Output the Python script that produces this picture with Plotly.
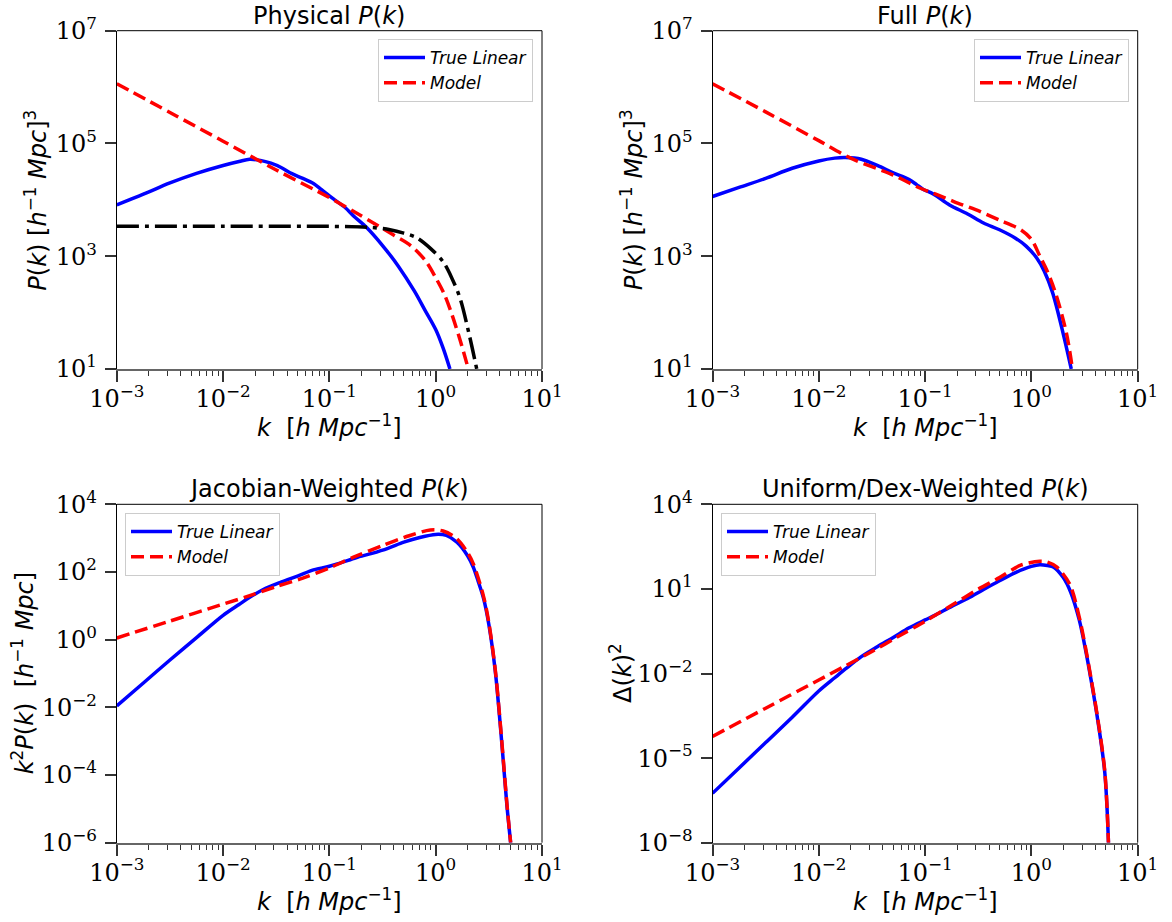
import plotly.graph_objects as go

# ---------------- data: log10 values ----------------
# Panel 1: Physical P(k)
phys_true_logk = [-3.0, -2.75, -2.5, -2.25, -2.0, -1.85, -1.75, -1.65, -1.55, -1.45, -1.37, -1.25,
                  -1.15, -1.08, -1.02, -0.95, -0.85, -0.77, -0.65, -0.5, -0.35, -0.2, -0.1, 0.0, 0.07, 0.134]
phys_true_logP = [3.91, 4.10, 4.30, 4.47, 4.61, 4.68, 4.72, 4.70, 4.65, 4.57, 4.48, 4.38,
                  4.29, 4.19, 4.10, 4.00, 3.86, 3.71, 3.51, 3.19, 2.82, 2.38, 2.04, 1.70, 1.37, 1.0]
phys_model_logk = [-3.0, -2.5, -2.0, -1.5, -1.0, -0.75, -0.55, -0.4, -0.25, -0.1, 0.0, 0.08, 0.15, 0.23, 0.307]
phys_model_logP = [6.06, 5.55, 5.04, 4.53, 4.04, 3.77, 3.55, 3.38, 3.21, 2.93, 2.62, 2.33, 1.98, 1.51, 1.0]
noise_logk = [-3.0, -2.0, -1.0, -0.6, -0.43, -0.3, -0.18, -0.05, 0.07, 0.15, 0.23, 0.32, 0.386]
noise_logP = [3.53, 3.53, 3.53, 3.51, 3.47, 3.41, 3.33, 3.14, 2.90, 2.62, 2.25, 1.57, 1.0]

# Panel 2: Full P(k)
full_true_logk = [-3.0, -2.75, -2.5, -2.25, -2.0, -1.85, -1.75, -1.6, -1.45, -1.3, -1.15, -1.08, -1.02,
                  -0.92, -0.77, -0.6, -0.45, -0.3, -0.15, -0.05, 0.05, 0.12, 0.2, 0.3, 0.375]
full_true_logP = [4.06, 4.22, 4.38, 4.56, 4.69, 4.74, 4.75, 4.72, 4.61, 4.48, 4.36, 4.27, 4.19,
                  4.10, 3.91, 3.75, 3.59, 3.47, 3.32, 3.18, 2.97, 2.74, 2.35, 1.62, 1.0]
full_model_logk = [-3.0, -2.5, -2.0, -1.7, -1.3, -1.05, -0.9, -0.73, -0.48, -0.3, -0.1, 0.0, 0.08,
                   0.15, 0.23, 0.33, 0.386]
full_model_logP = [6.06, 5.56, 5.05, 4.74, 4.44, 4.21, 4.10, 3.97, 3.79, 3.64, 3.47, 3.30, 3.0,
                   2.73, 2.33, 1.63, 1.0]

# Panel 3: Jacobian-weighted k^2 P(k)
jac_true_logk = [-3.0, -2.75, -2.5, -2.25, -2.0, -1.85, -1.75, -1.6, -1.45, -1.3, -1.15, -1.08, -1.0,
                 -0.9, -0.75, -0.6, -0.45, -0.3, -0.15, 0.0, 0.1, 0.2, 0.3, 0.354, 0.4, 0.45, 0.5,
                 0.56, 0.6, 0.64, 0.67, 0.705]
jac_true_logy = [-1.96, -1.28, -0.6, 0.06, 0.72, 1.04, 1.25, 1.52, 1.71, 1.88, 2.06, 2.11, 2.17,
                 2.26, 2.42, 2.55, 2.70, 2.88, 3.02, 3.11, 3.08, 2.88, 2.48, 2.14, 1.72, 1.22, 0.45,
                 -0.92, -2.25, -3.75, -4.9, -6.0]
jac_model_logk = [-3.0, -2.5, -2.0, -1.75, -1.5, -1.25, -1.0, -0.75, -0.5, -0.25, -0.05, 0.07, 0.2,
                  0.3, 0.354, 0.45, 0.5, 0.56, 0.6, 0.64, 0.67, 0.705]
jac_model_logy = [0.05, 0.55, 1.05, 1.30, 1.57, 1.82, 2.12, 2.47, 2.78, 3.07, 3.24, 3.21, 2.98,
                  2.57, 2.24, 1.28, 0.5, -0.88, -2.2, -3.7, -4.85, -6.0]

# Panel 4: Uniform/Dex-weighted Delta(k)^2
dex_true_logk = [-3.0, -2.75, -2.5, -2.25, -2.0, -1.85, -1.75, -1.6, -1.45, -1.3, -1.15, -1.08, -1.0,
                 -0.9, -0.75, -0.6, -0.45, -0.3, -0.15, 0.0, 0.08, 0.15, 0.21, 0.3, 0.37, 0.45, 0.51,
                 0.56, 0.62, 0.69, 0.725]
dex_true_logy = [-6.25, -5.35, -4.45, -3.55, -2.62, -2.15, -1.84, -1.40, -1.05, -0.72, -0.38, -0.25,
                 -0.1, 0.08, 0.38, 0.66, 0.98, 1.29, 1.58, 1.80, 1.86, 1.83, 1.77, 1.40, 0.88, -0.1,
                 -1.17, -2.2, -3.55, -5.5, -8.0]
dex_model_logk = [-3.0, -2.5, -2.0, -1.75, -1.5, -1.25, -1.0, -0.75, -0.5, -0.3, -0.1, 0.08, 0.15,
                  0.24, 0.36, 0.45, 0.51, 0.56, 0.62, 0.69, 0.725]
dex_model_logy = [-4.23, -3.23, -2.23, -1.73, -1.22, -0.68, -0.15, 0.42, 0.99, 1.40, 1.84, 1.98,
                  1.95, 1.77, 1.17, 0.0, -1.1, -2.15, -3.5, -5.45, -8.0]

# ticks
x_tick_vals = [1e-3, 1e-2, 1e-1, 1e0, 1e1]
x_tick_text = ["10<sup>−3</sup>", "10<sup>−2</sup>", "10<sup>−1</sup>", "10<sup>0</sup>", "10<sup>1</sup>"]
top_y_tick_vals = [1e1, 1e3, 1e5, 1e7]
top_y_tick_text = ["10<sup>1</sup>", "10<sup>3</sup>", "10<sup>5</sup>", "10<sup>7</sup>"]
jac_y_tick_vals = [1e-6, 1e-4, 1e-2, 1e0, 1e2, 1e4]
jac_y_tick_text = ["10<sup>−6</sup>", "10<sup>−4</sup>", "10<sup>−2</sup>", "10<sup>0</sup>",
                   "10<sup>2</sup>", "10<sup>4</sup>"]
dex_y_tick_vals = [1e-8, 1e-5, 1e-2, 1e1, 1e4]
dex_y_tick_text = ["10<sup>−8</sup>", "10<sup>−5</sup>", "10<sup>−2</sup>", "10<sup>1</sup>", "10<sup>4</sup>"]
x_minor_vals = [m * 10.0 ** e for e in range(-3, 1) for m in range(2, 10)]

titles = ["Physical <i>P</i>(<i>k</i>)", "Full <i>P</i>(<i>k</i>)",
          "Jacobian-Weighted <i>P</i>(<i>k</i>)", "Uniform/Dex-Weighted <i>P</i>(<i>k</i>)"]
y_titles = ["<i>P</i>(<i>k</i>) [<i>h</i><sup>−1</sup> <i>Mpc</i>]<sup>3</sup>",
            "<i>P</i>(<i>k</i>) [<i>h</i><sup>−1</sup> <i>Mpc</i>]<sup>3</sup>",
            "<i>k</i><sup>2</sup><i>P</i>(<i>k</i>)  [<i>h</i><sup>−1</sup> <i>Mpc</i>]",
            "Δ(<i>k</i>)<sup>2</sup>"]
x_title = "<i>k</i>  [<i>h Mpc</i><sup>−1</sup>]"

# ---------------- figure ----------------
W, H = 1172, 922
BLUE, RED = "#0000ff", "#ff0000"
LW = 3.5
DASH = "13px,6px"
DASHDOT = "22px,6px,4px,6px"

def p(vals):
    return [10.0 ** v for v in vals]

fig = go.Figure()

panels = [
    ("x", "y", "legend", phys_true_logk, phys_true_logP, phys_model_logk, phys_model_logP),
    ("x2", "y2", "legend2", full_true_logk, full_true_logP, full_model_logk, full_model_logP),
    ("x3", "y3", "legend3", jac_true_logk, jac_true_logy, jac_model_logk, jac_model_logy),
    ("x4", "y4", "legend4", dex_true_logk, dex_true_logy, dex_model_logk, dex_model_logy),
]
for xa, ya, lg, tk, tv, mk, mv in panels:
    fig.add_trace(go.Scatter(x=p(tk), y=p(tv), xaxis=xa, yaxis=ya, legend=lg, mode="lines",
                             name="<i>True Linear</i>", line=dict(color=BLUE, width=LW, shape="spline", smoothing=0.9)))
    fig.add_trace(go.Scatter(x=p(mk), y=p(mv), xaxis=xa, yaxis=ya, legend=lg, mode="lines",
                             name="<i>Model</i>", line=dict(color=RED, width=LW, dash=DASH, shape="spline", smoothing=0.9)))
    if xa == "x":
        fig.add_trace(go.Scatter(x=p(noise_logk), y=p(noise_logP), xaxis=xa, yaxis=ya, mode="lines",
                                 showlegend=False,
                                 line=dict(color="black", width=LW, dash=DASHDOT, shape="spline", smoothing=0.9)))

# domains (pixel positions of the reference axes)
def xd(a, b):
    return [a / W, b / W]

def yd(top, bot):
    return [1 - bot / H, 1 - top / H]

XL, XR = xd(116.8, 542.0), xd(712.5, 1137.7)
YT, YB = yd(30.7, 369.0), yd(504.3, 842.7)

tickfont = dict(family="DejaVu Serif", size=24, color="black")
common_x = dict(type="log", range=[-3, 1], tickmode="array", tickvals=x_tick_vals, ticktext=x_tick_text,
                ticks="outside", ticklen=11, tickwidth=1.5, tickcolor="#333", showgrid=False, zeroline=False,
                showline=True, linecolor="#666", linewidth=2, tickfont=tickfont, automargin=False,
                ticklabelstandoff=-4,
                minor=dict(tickmode="array", tickvals=x_minor_vals, ticks="outside", ticklen=5,
                           tickwidth=1, tickcolor="#333", showgrid=False))
common_y = dict(type="log", tickmode="array", ticks="outside", ticklen=11, tickwidth=1.5, tickcolor="#333",
                showgrid=False, zeroline=False, showline=True, linecolor="black", linewidth=1,
                tickfont=tickfont, automargin=False, ticklabelstandoff=3)

fig.update_layout(
    xaxis=dict(domain=XL, anchor="y", **common_x),
    xaxis2=dict(domain=XR, anchor="y2", **common_x),
    xaxis3=dict(domain=XL, anchor="y3", **common_x),
    xaxis4=dict(domain=XR, anchor="y4", **common_x),
    yaxis=dict(domain=YT, anchor="x", range=[1, 7], tickvals=top_y_tick_vals, ticktext=top_y_tick_text, **common_y),
    yaxis2=dict(domain=YT, anchor="x2", range=[1, 7], tickvals=top_y_tick_vals, ticktext=top_y_tick_text, **common_y),
    yaxis3=dict(domain=YB, anchor="x3", range=[-6, 4], tickvals=jac_y_tick_vals, ticktext=jac_y_tick_text, **common_y),
    yaxis4=dict(domain=YB, anchor="x4", range=[-8, 4], tickvals=dex_y_tick_vals, ticktext=dex_y_tick_text, **common_y),
)

legfont = dict(family="DejaVu Sans", size=17, color="black")
legcommon = dict(font=legfont, bgcolor="rgba(255,255,255,0.8)", bordercolor="#cccccc", borderwidth=1,
                 yanchor="top", tracegroupgap=0, itemwidth=41)
fig.update_layout(
    legend=dict(x=533 / W, y=1 - 39 / H, xanchor="right", **legcommon),
    legend2=dict(x=1129 / W, y=1 - 39 / H, xanchor="right", **legcommon),
    legend3=dict(x=125 / W, y=1 - 513 / H, xanchor="left", **legcommon),
    legend4=dict(x=721 / W, y=1 - 513 / H, xanchor="left", **legcommon),
)

# frame: top and right spines
shapes = []
for xa, ya in [("x", "y"), ("x2", "y2"), ("x3", "y3"), ("x4", "y4")]:
    shapes.append(dict(type="line", xref=xa + " domain", yref=ya + " domain", x0=0, x1=1, y0=1, y1=1,
                       line=dict(color="black", width=1)))
    shapes.append(dict(type="line", xref=xa + " domain", yref=ya + " domain", x0=1, x1=1, y0=0, y1=1,
                       line=dict(color="black", width=1)))

annotations = []
axis_pairs = [("x", "y", -81), ("x2", "y2", -81), ("x3", "y3", -94), ("x4", "y4", -92)]
for i, (xa, ya, ysh) in enumerate(axis_pairs):
    annotations.append(dict(text=titles[i], xref=xa + " domain", yref=ya + " domain", x=0.5, y=1,
                            xanchor="center", yanchor="middle", yshift=15, showarrow=False,
                            font=dict(family="DejaVu Sans", size=24, color="black")))
    annotations.append(dict(text=x_title, xref=xa + " domain", yref=ya + " domain", x=0.5, y=0,
                            xanchor="center", yanchor="middle", yshift=-57, showarrow=False,
                            font=dict(family="DejaVu Sans", size=24, color="black")))
    annotations.append(dict(text=y_titles[i], xref=xa + " domain", yref=ya + " domain", x=0, y=0.5,
                            xanchor="center", yanchor="middle", xshift=ysh, textangle=-90, showarrow=False,
                            font=dict(family="DejaVu Sans", size=24, color="black")))

fig.update_layout(width=W, height=H, margin=dict(l=0, r=0, t=0, b=0, autoexpand=False),
                  paper_bgcolor="white", plot_bgcolor="white", shapes=shapes, annotations=annotations)

fig.write_html("out.html")
